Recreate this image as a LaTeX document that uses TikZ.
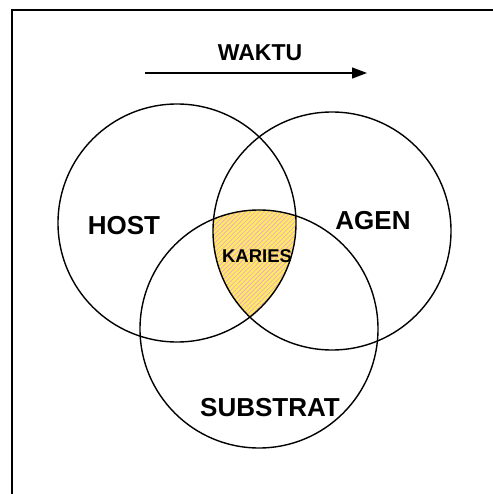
\documentclass[tikz,border=0pt]{standalone}
\usepackage{fontspec}
\setmainfont{Liberation Sans}
\usetikzlibrary{arrows.meta,patterns.meta}
\definecolor{kariesfill}{RGB}{255,238,90}
\definecolor{kariesline}{RGB}{238,165,210}
\tikzset{
  ring/.style={circle, draw=black, line width=1.4pt, minimum size=238pt, inner sep=0pt},
  lbl/.style={font=\bfseries\fontsize{26}{28}\selectfont, inner sep=0pt},
  titlelbl/.style={font=\bfseries\fontsize{23}{25}\selectfont, inner sep=0pt},
  smalllbl/.style={font=\bfseries\fontsize{18.5}{20}\selectfont, inner sep=0pt},
  frameline/.style={line width=1.5pt},
  timearrow/.style={line width=1.3pt, -{Triangle[length=15pt,width=11pt]}}
}
\begin{document}
\begin{tikzpicture}[x=1pt,y=-1pt]
  \useasboundingbox (0,0) rectangle (492,494);
  \fill[white] (0,0) rectangle (492,494);
  % outer frame (top and left edges)
  \draw[frameline] (12,500) -- (12,10) -- (500,10);

  % time arrow
  \coordinate (tstart) at (145,73);
  \coordinate (tend) at (367,73);
  \draw[timearrow] (tstart) -- (tend);
  \node[titlelbl] (waktu) at (260,53) {WAKTU};

  % intersection of the three circles
  \begin{scope}
    \clip (177,223) circle (119);
    \clip (332,231) circle (119);
    \fill[kariesfill] (259,329) circle (119);
    \fill[pattern={Lines[angle=45,distance=3.2pt,line width=0.8pt]}, pattern color=kariesline] (259,329) circle (119);
  \end{scope}

  % the three circles
  \node[ring] (host) at (177,223) {};
  \node[ring] (agen) at (332,231) {};
  \node[ring] (subs) at (259,329) {};

  % labels
  \node[lbl] (hostlbl) at (124,226) {HOST};
  \node[lbl] (agenlbl) at (373,221) {AGEN};
  \node[lbl] (subslbl) at (270,408) {SUBSTRAT};
  \node[smalllbl] (karies) at (257,256) {KARIES};
\end{tikzpicture}
\end{document}
